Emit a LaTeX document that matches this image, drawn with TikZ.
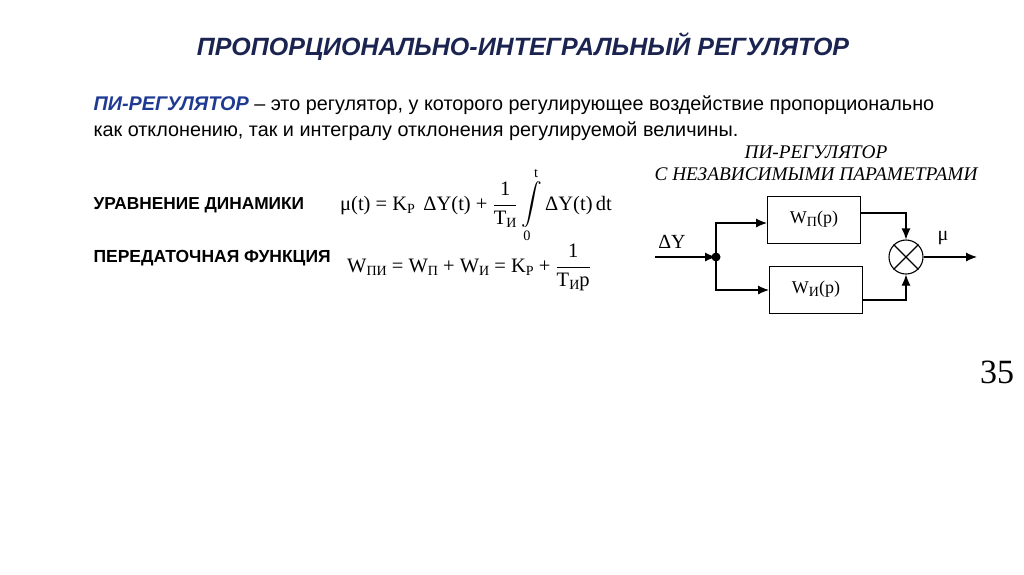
\documentclass[tikz,border=0pt]{standalone}
\usepackage{amsmath}
\usepackage{fontspec}
\setmainfont{Liberation Serif}
\newfontfamily\ars{Liberation Sans}
\definecolor{navy}{HTML}{1B2450}
\definecolor{blu}{HTML}{1F3A93}
\newcommand{\sbs}[1]{\raisebox{-0.35ex}{\fontsize{14}{15}\selectfont #1}}
\newcommand{\fr}[2]{$\genfrac{}{}{0.6pt}{0}{\text{#1}}{\text{#2}}$}
\begin{document}
\begin{tikzpicture}[x=1pt,y=-1pt,
  blk/.style={draw,line width=1pt,minimum width=93pt,minimum height=47pt,font=\fontsize{18}{20}\selectfont},
  ln/.style={line width=1.1pt},
  ar/.style={ln,-{Latex[length=11pt,width=9pt]}}]
\usetikzlibrary{arrows.meta}
\useasboundingbox (0,0) rectangle (1024,574);
\node[font=\ars\bfseries\itshape\fontsize{25}{28}\selectfont,text=navy] (title) at (523,47) {ПРОПОРЦИОНАЛЬНО-ИНТЕГРАЛЬНЫЙ РЕГУЛЯТОР};
\node[anchor=base west,font=\ars\fontsize{19.8}{26}\selectfont,align=left] (txt1) at (90,110) {{\bfseries\itshape\color{blu}ПИ-РЕГУЛЯТОР} – это регулятор, у которого регулирующее воздействие пропорционально};
\node[anchor=base west,font=\ars\fontsize{19.8}{26}\selectfont] (txt2) at (90,136) {как отклонению, так и интегралу отклонения регулируемой величины.};
\node[anchor=base west,font=\ars\bfseries\fontsize{17.3}{20}\selectfont] (ud) at (90,209) {УРАВНЕНИЕ ДИНАМИКИ};
\node[anchor=base west,font=\ars\bfseries\fontsize{17.5}{20}\selectfont] (pf) at (90,262) {ПЕРЕДАТОЧНАЯ ФУНКЦИЯ};
\node[anchor=base west,font=\fontsize{20.5}{22}\selectfont,inner sep=0] (eq1) at (340,210) {μ(t) = K\sbs{P}\, ΔY(t) + \fr{1}{T\sbs{И}}\,$\displaystyle\int\limits_{\text{0}}^{\text{t}}$\,ΔY(t)\,dt};
\node[anchor=base west,font=\fontsize{20.5}{22}\selectfont,inner sep=0] (eq2) at (347,272) {W\sbs{ПИ} = W\sbs{П} + W\sbs{И} = K\sbs{P} + \fr{1}{T\sbs{И}p}};
\node[font=\itshape\fontsize{19.3}{22}\selectfont,align=center] (dtitle) at (816,163) {ПИ-РЕГУЛЯТОР\\С НЕЗАВИСИМЫМИ ПАРАМЕТРАМИ};
\node[blk] (wp) at (814,219.5) {W\sbs{П}(p)};
\node[blk] (wi) at (816,289.5) {W\sbs{И}(p)};
\node[draw,circle,ln,minimum size=34pt,inner sep=0] (sum) at (906,257) {};
\draw[ln] (sum.north west)--(sum.south east) (sum.north east)--(sum.south west);
\fill (716,257) circle (4.5pt) coordinate (dot);
\coordinate (in) at (655,257);
\coordinate (out) at (977,257);
\draw[ar] (in)--(dot);
\draw[ar] (dot)--(716,223)--(wp.west|-0,223);
\draw[ar] (dot)--(716,290)--(wi.west|-0,290);
\draw[ar] (wp.east|-0,213)--(906,213)--(sum.north);
\draw[ar] (wi.east|-0,300)--(906,300)--(sum.south);
\draw[ar] (sum.east)--(out);
\node[font=\fontsize{20}{22}\selectfont] (dy) at (672,242) {ΔY};
\node[font=\fontsize{20}{22}\selectfont] (mu) at (943,238) {μ};
\node[font=\fontsize{34}{38}\selectfont] (num) at (997,372) {35};
\end{tikzpicture}
\end{document}
